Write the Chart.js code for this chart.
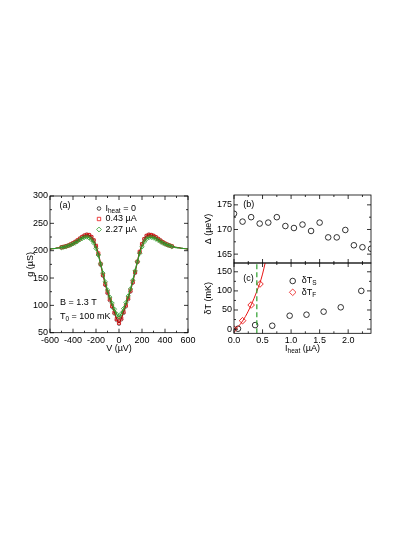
<!DOCTYPE html>
<html>
<head>
<meta charset="utf-8">
<script src="https://cdn.jsdelivr.net/npm/chart.js@4.4.0/dist/chart.umd.min.js"></script>
<style>
    html, body { margin: 0; padding: 0; background: #fff; }
    canvas { position: absolute; left: 0; top: 0; }
</style>
</head>
<body>
<canvas id="panelA" width="415" height="537"></canvas>
<canvas id="panelB" width="415" height="537"></canvas>
<canvas id="panelC" width="415" height="537"></canvas>
<script>
// (a) conductance vs bias voltage
const voltage = [-600, -580, -560, -540, -520, -500, -480, -460, -440, -420, -400, -380, -360, -340, -320, -300,
    -280, -260, -240, -220, -200, -180, -160, -140, -120, -100, -80, -60, -40, -20, 0, 20, 40, 60, 80, 100, 120,
    140, 160, 180, 200, 220, 240, 260, 280, 300, 320, 340, 360, 380, 400, 420, 440, 460, 480, 500, 520, 540, 560,
    580, 600];
const gZero = [203, 203.5, 204, 205, 205.5, 206.5, 207, 208.5, 209.5, 211.5, 214, 216.5, 219, 222.5, 225.5, 228,
    229.5, 229, 225.5, 219, 208, 193, 174, 154, 137, 122, 109, 97, 85, 73, 66, 74, 86, 98, 111, 125, 141, 159, 179,
    197, 212, 221.5, 227.5, 229.5, 229, 227.5, 225, 222, 219, 216, 213.5, 211.5, 209.5, 208, 207, 206, 205.5, 204.5,
    204, 203.5, 203];
const gMid = [203, 203.5, 204, 205, 205.5, 206, 207, 208, 209.5, 211.5, 213.5, 216, 219, 222, 225, 227.5, 229,
    228.5, 225, 219, 209, 195, 176, 156, 139, 124, 111, 99, 87, 75, 68, 76, 88, 100, 113, 127, 143, 161, 180, 198,
    212, 221, 227, 229, 228.5, 227, 224.5, 221.5, 218.5, 215.5, 213, 211, 209.5, 208, 207, 206, 205.5, 204.5, 204,
    203.5, 203];
const gHigh = [203, 203.5, 204, 204.5, 205, 205.5, 206.5, 207.5, 209, 210.5, 212.5, 214.5, 217, 220, 222.5, 224.5,
    225, 223.5, 220, 214, 204, 192, 176, 159, 143, 128, 115, 104, 93, 84, 79, 85, 94, 105, 117, 130, 146, 163, 180,
    195, 207, 216, 221.5, 224, 224.5, 223.5, 221.5, 219, 216.5, 214, 212, 210.5, 209, 207.5, 206.5, 205.5, 205,
    204.5, 204, 203.5, 203];
const vTicks = [-600, -400, -200, 0, 200, 400, 600];
const gTicks = [50, 100, 150, 200, 250, 300];

// (b) gap vs heater current
const heatGap = [0, 0.15, 0.3, 0.45, 0.6, 0.75, 0.9, 1.05, 1.2, 1.35, 1.5, 1.65, 1.8, 1.95, 2.1, 2.25, 2.4];
const gapValues = [173.2, 171.6, 172.5, 171.2, 171.4, 172.5, 170.7, 170.3, 171.0, 169.7, 171.4, 168.4, 168.4,
    169.9, 166.8, 166.4, 166.1];
const gapTicks = [165, 170, 175];

// (c) temperature rise vs heater current
const heatSample = [0.07, 0.37, 0.67, 0.975, 1.27, 1.57, 1.87, 2.23];
const dTSample = [1, 10.5, 8.8, 35, 37.7, 45.6, 57, 100];
const heatFilm = [0, 0.15, 0.3, 0.455];
const dTFilm = [0, 22, 63, 118];
const fitHeat = [0, 0.05, 0.1, 0.15, 0.2, 0.25, 0.3, 0.35, 0.4, 0.45, 0.5, 0.55];
const fitDT = [0, 4, 11, 21, 33, 47, 63, 80, 99, 119, 144, 176];
const criticalHeat = 0.40;
const heatTicks = [0, 0.5, 1.0, 1.5, 2.0];
const dTTicks = [0, 50, 100, 150];

const RED = 'rgb(232, 20, 20)';
const GREEN = 'rgb(44, 158, 44)';
const FONT = '"Liberation Sans", Arial, sans-serif';

Chart.defaults.font.family = FONT;
Chart.defaults.font.size = 9;
Chart.defaults.color = '#000';

const pts = (xs, ys) => xs.map((x, i) => ({ x, y: ys[i] }));
const inMarkerRange = (p) => p.x >= -500 && p.x <= 460;
const fixedTicks = (values) => (scale) => {
    scale.ticks = values.map((value) => ({ value }));
};

// frame with inward major/minor ticks on all four sides
const makeFrame = (steps) => ({
    id: 'frame',
    afterDatasetsDraw(chart) {
        const { ctx, chartArea: a, scales } = chart;
        ctx.save();
        ctx.strokeStyle = '#000';
        ctx.lineWidth = 0.8;
        ctx.strokeRect(a.left, a.top, a.right - a.left, a.bottom - a.top);
        ctx.beginPath();
        ['x', 'y'].forEach((id) => {
            const s = scales[id];
            const { major, minor } = steps[id];
            const k0 = Math.ceil(s.min / minor - 1e-6);
            const k1 = Math.floor(s.max / minor + 1e-6);
            for (let k = k0; k <= k1; k++) {
                const v = k * minor;
                const len = Math.abs(v / major - Math.round(v / major)) < 1e-6 ? 4 : 2;
                const p = s.getPixelForValue(v);
                if (id === 'x') {
                    ctx.moveTo(p, a.bottom);
                    ctx.lineTo(p, a.bottom - len);
                    ctx.moveTo(p, a.top);
                    ctx.lineTo(p, a.top + len);
                } else {
                    ctx.moveTo(a.left, p);
                    ctx.lineTo(a.left + len, p);
                    ctx.moveTo(a.right, p);
                    ctx.lineTo(a.right - len, p);
                }
            }
        });
        ctx.stroke();
        ctx.restore();
    },
});

// text with subscripts, parts = [[text, isSub], ...]
const richText = (ctx, x, y, parts, align = 'left') => {
    const base = `9px ${FONT}`;
    const small = `6.5px ${FONT}`;
    let w = 0;
    parts.forEach(([t, sub]) => {
        ctx.font = sub ? small : base;
        w += ctx.measureText(t).width;
    });
    let cx = align === 'center' ? x - w / 2 : x;
    ctx.textAlign = 'left';
    ctx.textBaseline = 'middle';
    ctx.fillStyle = '#000';
    parts.forEach(([t, sub]) => {
        ctx.font = sub ? small : base;
        ctx.fillText(t, cx, sub ? y + 2.5 : y);
        cx += ctx.measureText(t).width;
    });
};

const symbol = (ctx, style, color, radius, x, y) => {
    ctx.save();
    ctx.strokeStyle = color;
    ctx.fillStyle = 'rgba(0,0,0,0)';
    ctx.lineWidth = 0.8;
    Chart.helpers.drawPoint(ctx, { pointStyle: style, radius, rotation: 0, borderWidth: 0.8 }, x, y);
    ctx.restore();
};

const axis = (extra) => ({
    type: 'linear',
    grid: { display: false, drawTicks: false },
    border: { display: false },
    ...extra,
    ticks: { padding: 2, maxRotation: 0, autoSkip: false, color: '#000', ...(extra.ticks || {}) },
});

const baseOptions = (padding, scales) => ({
    responsive: false,
    animation: false,
    events: [],
    layout: { padding },
    plugins: { legend: { display: false }, tooltip: { enabled: false } },
    scales,
});

// ---- panel (a)
new Chart(document.getElementById('panelA'), {
    type: 'scatter',
    data: {
        datasets: [
            { data: pts(voltage, gHigh).filter(inMarkerRange), pointStyle: 'rectRot', pointRadius: 2.2,
              borderColor: GREEN, borderWidth: 0.8, backgroundColor: 'rgba(0,0,0,0)' },
            { data: pts(voltage, gHigh), showLine: true, pointRadius: 0, borderColor: GREEN, borderWidth: 1.2,
              cubicInterpolationMode: 'monotone' },
            { data: pts(voltage, gMid), showLine: true, pointRadius: 0, borderColor: 'rgb(170, 10, 10)',
              borderWidth: 1.2, cubicInterpolationMode: 'monotone' },
            { data: pts(voltage, gMid).filter(inMarkerRange), pointStyle: 'rect', pointRadius: 2.2,
              borderColor: RED, borderWidth: 0.8, backgroundColor: 'rgba(0,0,0,0)' },
            { data: pts(voltage, gZero).filter(inMarkerRange), pointStyle: 'circle', pointRadius: 1.6,
              borderColor: '#222', borderWidth: 0.6, backgroundColor: 'rgba(0,0,0,0)' },
        ],
    },
    options: baseOptions({ left: 25, right: 227, top: 196, bottom: 183.3 }, {
        x: axis({
            min: -600, max: 600,
            afterFit: (s) => { s.height = 21; },
            afterBuildTicks: fixedTicks(vTicks),
            title: { display: true, text: 'V (µV)', padding: 0, color: '#000' },
        }),
        y: axis({
            min: 50, max: 300,
            afterFit: (s) => { s.width = 25; },
            afterBuildTicks: fixedTicks(gTicks),
            title: { display: true, text: 'g (µS)', padding: 0, color: '#000' },
        }),
    }),
    plugins: [
        makeFrame({ x: { major: 200, minor: 100 }, y: { major: 50, minor: 25 } }),
        {
            id: 'notesA',
            afterDraw(chart) {
                const { ctx } = chart;
                ctx.save();
                richText(ctx, 59.5, 205.5, [['(a)']]);
                symbol(ctx, 'circle', '#222', 1.8, 99, 208.5);
                symbol(ctx, 'rect', RED, 2.4, 99, 219);
                symbol(ctx, 'rectRot', GREEN, 2.4, 99, 229.5);
                richText(ctx, 105.5, 208.5, [['I'], ['heat', true], [' = 0']]);
                richText(ctx, 105.5, 219, [['0.43 µA']]);
                richText(ctx, 105.5, 229.5, [['2.27 µA']]);
                richText(ctx, 60, 302.7, [['B = 1.3 T']]);
                richText(ctx, 60, 316.7, [['T'], ['0', true], [' = 100 mK']]);
                ctx.restore();
            },
        },
    ],
});

// ---- panel (b)
new Chart(document.getElementById('panelB'), {
    type: 'scatter',
    data: {
        datasets: [
            { data: pts(heatGap, gapValues), pointStyle: 'circle', pointRadius: 2.8, borderColor: '#000',
              borderWidth: 0.8, backgroundColor: 'rgba(0,0,0,0)' },
        ],
    },
    options: baseOptions({ left: 203, right: 44, top: 195, bottom: 274 }, {
        x: axis({
            min: 0, max: 2.4,
            afterFit: (s) => { s.height = 0; },
            ticks: { display: false },
        }),
        y: axis({
            min: 163.2, max: 177,
            afterFit: (s) => { s.width = 31; },
            afterBuildTicks: fixedTicks(gapTicks),
            title: { display: true, text: 'Δ (µeV)', padding: 0, color: '#000' },
        }),
    }),
    plugins: [
        makeFrame({ x: { major: 0.5, minor: 0.25 }, y: { major: 5, minor: 2.5 } }),
        {
            id: 'notesB',
            afterDraw(chart) {
                richText(chart.ctx, 243.3, 205, [['(b)']]);
            },
        },
    ],
});

// ---- panel (c)
new Chart(document.getElementById('panelC'), {
    type: 'scatter',
    data: {
        datasets: [
            { data: [{ x: criticalHeat, y: -11 }, { x: criticalHeat, y: 173 }], showLine: true, pointRadius: 0,
              borderColor: GREEN, borderWidth: 1.2, borderDash: [5, 3] },
            { data: pts(heatFilm, dTFilm), pointStyle: 'rectRot', pointRadius: 3.3, borderColor: RED,
              borderWidth: 0.9, backgroundColor: 'rgba(0,0,0,0)' },
            { data: pts(fitHeat, fitDT), showLine: true, pointRadius: 0, borderColor: RED, borderWidth: 1,
              cubicInterpolationMode: 'monotone' },
            { data: pts(heatSample, dTSample), pointStyle: 'circle', pointRadius: 2.8, borderColor: '#000',
              borderWidth: 0.8, backgroundColor: 'rgba(0,0,0,0)' },
        ],
    },
    options: baseOptions({ left: 203, right: 44, top: 263, bottom: 182.7 }, {
        x: axis({
            min: 0, max: 2.4,
            afterFit: (s) => { s.height = 21; },
            afterBuildTicks: fixedTicks(heatTicks),
            ticks: { callback: (v) => Number(v).toFixed(1) },
        }),
        y: axis({
            min: -11, max: 173,
            afterFit: (s) => { s.width = 31; },
            afterBuildTicks: fixedTicks(dTTicks),
            title: { display: true, text: 'δT (mK)', padding: 0, color: '#000' },
        }),
    }),
    plugins: [
        makeFrame({ x: { major: 0.5, minor: 0.25 }, y: { major: 50, minor: 25 } }),
        {
            id: 'notesC',
            afterDraw(chart) {
                const { ctx, chartArea } = chart;
                ctx.save();
                richText(ctx, 243.3, 278.3, [['(c)']]);
                symbol(ctx, 'circle', '#000', 2.8, 292.7, 281);
                symbol(ctx, 'rectRot', RED, 3.3, 292.7, 292.3);
                richText(ctx, 301.7, 281, [['δT'], ['S', true]]);
                richText(ctx, 301.7, 292.3, [['δT'], ['F', true]]);
                richText(ctx, (chartArea.left + chartArea.right) / 2, 348.3,
                    [['I'], ['heat', true], [' (µA)']], 'center');
                ctx.restore();
            },
        },
    ],
});
</script>
</body>
</html>
